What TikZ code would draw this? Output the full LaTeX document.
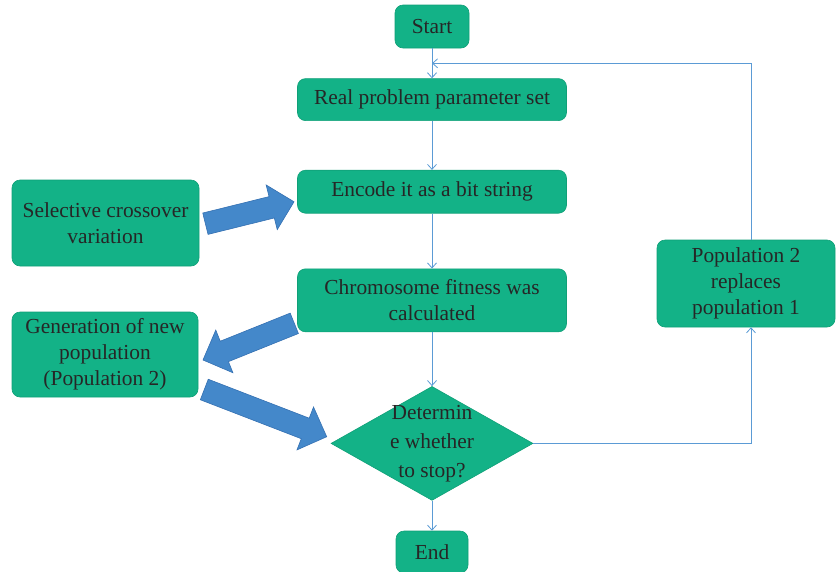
\documentclass[tikz,border=0pt]{standalone}
\usepackage{fontspec}
\setmainfont{Liberation Serif}
\usepackage{xcolor}
\usetikzlibrary{arrows.meta, positioning, shapes.geometric, calc}

\definecolor{boxgreen}{RGB}{19,178,135}
\definecolor{boxedge}{RGB}{16,160,120}
\definecolor{flowblue}{RGB}{91,155,213}
\definecolor{fatblue}{RGB}{68,136,202}
\definecolor{fatedge}{RGB}{52,112,178}
\definecolor{inkgray}{RGB}{38,38,38}

% fat arrow: tail (x,y), angle, length
\newcommand{\blockarrow}[4]{%
  \begin{scope}[shift={(#1,#2)}, rotate=#3]
    \draw[fat] (0,-11) -- ({#4-23},-11) -- ({#4-23},-23) -- (#4,0)
      -- ({#4-23},23) -- ({#4-23},11) -- (0,11) -- cycle;
  \end{scope}}

\begin{document}
\begin{tikzpicture}[
        x=1pt, y=-1pt,
        box/.style={draw=boxedge, line width=0.6pt, fill=boxgreen, rounded corners=8pt, align=center,
            text=inkgray, font=\fontsize{21.4}{26}\selectfont, inner sep=2pt},
        mainbox/.style={box, minimum width=269pt, minimum height=42pt},
        sidebox/.style={box, minimum width=186pt, minimum height=86pt},
        decision/.style={draw=boxedge, line width=0.6pt, fill=boxgreen, diamond, inner sep=0pt,
            minimum width=202pt, minimum height=114pt},
        flow/.style={draw=flowblue, line width=0.8pt, -{Straight Barb[length=5pt, width=9pt]}},
        fat/.style={draw=fatedge, line width=0.6pt, fill=fatblue, line join=miter}
    ]
        \useasboundingbox (0,0) rectangle (836,571);

        % Nodes
        \node[box, minimum width=74pt, minimum height=43pt] (start) at (432,26.5) {Start};
        \node[mainbox, below=30pt of start] (real) {Real problem parameter set};
        \node[mainbox, minimum height=43pt, below=49pt of real] (encode) {Encode it as a bit string};
        \node[mainbox, minimum height=63pt, below=55pt of encode] (fitness) {Chromosome fitness was\\calculated};
        \node[decision, below=54pt of fitness] (decide) {};
        \node[align=center, text=inkgray, font=\fontsize{21.4}{29}\selectfont] (decidetext) at (decide) {Determin\\e whether\\to stop?};
        \node[box, minimum width=72pt, minimum height=42pt, below=30pt of decide] (end) {End};

        \node[sidebox, minimum width=187pt] (select) at (105.5,223) {Selective crossover\\variation};
        \node[sidebox, minimum height=85pt] (newpop) at (105,354.5) {Generation of new\\population\\(Population 2)};
        \node[sidebox, minimum width=178pt, minimum height=87pt] (replace) at (746,283.5) {Population 2\\replaces\\population 1};

        \coordinate (join) at ($(start.south)!0.5!(real.north)$);

        % Arrows
        \draw[flow] (start) -- (real);
        \draw[flow] (real) -- (encode);
        \draw[flow] (encode) -- (fitness);
        \draw[flow] (fitness) -- (decide);
        \draw[flow] (decide) -- (end);
        \draw[flow] (decide.east) -| ([xshift=5pt]replace.south);
        \draw[flow] ([xshift=5pt]replace.north) |- (join);

        % Fat arrows
        \blockarrow{205.4}{223.7}{13.9}{91.3}
        \blockarrow{294.3}{323.3}{201.9}{98.4}
        \blockarrow{204.3}{389.5}{-21.1}{131.2}
    \end{tikzpicture}
\end{document}
